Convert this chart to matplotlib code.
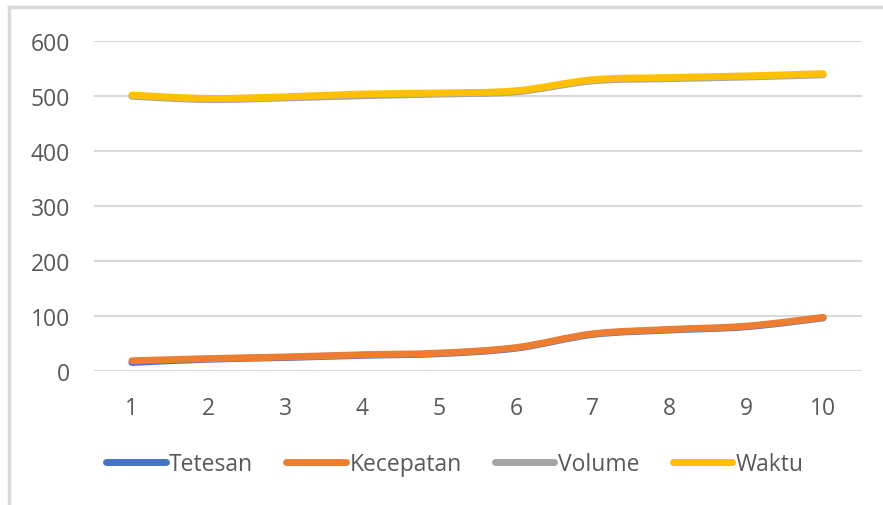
import matplotlib.pyplot as plt
from matplotlib.path import Path
from matplotlib.patches import PathPatch
from matplotlib.lines import Line2D

percobaan = [1, 2, 3, 4, 5, 6, 7, 8, 9, 10]
tetesan = [15, 21, 24, 28, 31, 41, 66, 74, 80, 96]
kecepatan = [18, 22, 25, 29, 32, 42, 67, 75, 81, 97]
volume = [499, 493, 496, 500, 503, 507, 527, 531, 534, 538]
waktu = [501, 495, 498, 503, 505, 509, 529, 533, 536, 540]

series = [
    ('Tetesan', tetesan, '#4472C4'),
    ('Kecepatan', kecepatan, '#ED7D31'),
    ('Volume', volume, '#A5A5A5'),
    ('Waktu', waktu, '#FFC000'),
]

plt.rcParams['font.family'] = ['Open Sans', 'DejaVu Sans']
text_color = '#595959'
grid_color = '#D9D9D9'


def smooth_path(xs, ys):
    # Catmull-Rom style bezier, like the "smoothed line" option in spreadsheets
    pts = list(zip(xs, ys))
    verts = [pts[0]]
    codes = [Path.MOVETO]
    n = len(pts)
    for i in range(n - 1):
        p0 = pts[i - 1] if i > 0 else pts[i]
        p1 = pts[i]
        p2 = pts[i + 1]
        p3 = pts[i + 2] if i + 2 < n else pts[i + 1]
        c1 = (p1[0] + (p2[0] - p0[0]) / 6, p1[1] + (p2[1] - p0[1]) / 6)
        c2 = (p2[0] - (p3[0] - p1[0]) / 6, p2[1] - (p3[1] - p1[1]) / 6)
        verts += [c1, c2, p2]
        codes += [Path.CURVE4] * 3
    return Path(verts, codes)


fig = plt.figure(figsize=(8.83, 5.06), dpi=100)
ax = fig.add_axes([0.1059, 0.2654, 0.8698, 0.6522])

for name, vals, color in series:
    patch = PathPatch(smooth_path(percobaan, vals), facecolor='none',
                      edgecolor=color, linewidth=5, capstyle='round',
                      joinstyle='round')
    ax.add_patch(patch)

ax.set_xlim(0.5, 10.5)
ax.set_ylim(0, 600)
ax.set_xticks(percobaan)
ax.set_yticks(range(0, 601, 100))
ax.yaxis.grid(True, color=grid_color, linewidth=1.5)
ax.set_axisbelow(True)
for s in ax.spines.values():
    s.set_visible(False)
ax.tick_params(axis='both', length=0, labelsize=16.5, labelcolor=text_color)
ax.tick_params(axis='x', pad=18)
ax.tick_params(axis='y', pad=17)

handles = [Line2D([], [], color=c, linewidth=5, solid_capstyle='round')
           for _, _, c in series]
fig.legend(handles, [n for n, _, _ in series], loc='center',
           bbox_to_anchor=(0.515, 0.081), ncol=4, frameon=False,
           fontsize=16.5, labelcolor=text_color, handlelength=2.6,
           handletextpad=0.15, columnspacing=1.45)

# chart area border (only top and left edges fall inside the image)
fig.add_artist(Line2D([0.0102, 0.0102], [0, 0.984], color=grid_color,
                      linewidth=2.5, transform=fig.transFigure))
fig.add_artist(Line2D([0.0102, 1], [0.984, 0.984], color=grid_color,
                      linewidth=2.5, transform=fig.transFigure))

fig.savefig('out.png', dpi=100)
